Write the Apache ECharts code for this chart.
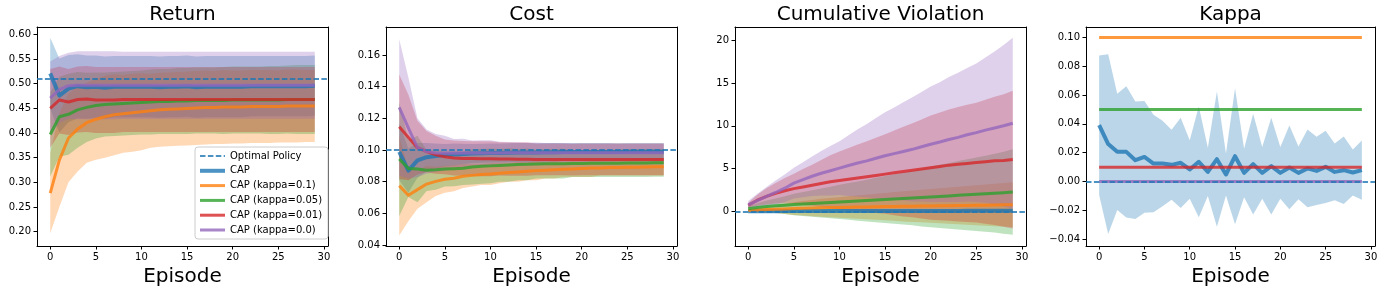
<!DOCTYPE html>
<html><head><meta charset="utf-8">
<script src="https://cdn.jsdelivr.net/npm/echarts@6/dist/echarts.min.js"></script>
<style>html,body{margin:0;padding:0;background:#fff}#c{width:1385px;height:292px}</style>
</head><body><div id="c"></div>
<script>
// ---------- data ----------
const episodes = [0,1,2,3,4,5,6,7,8,9,10,11,12,13,14,15,16,17,18,19,20,21,22,23,24,25,26,27,28,29];
const seriesNames = ['CAP','CAP (kappa=0.1)','CAP (kappa=0.05)','CAP (kappa=0.01)','CAP (kappa=0.0)'];
const optimalName = 'Optimal Policy';
const panelTitles = ['Return','Cost','Cumulative Violation','Kappa'];
const xLabel = 'Episode';
const xTicks = [0,5,10,15,20,25,30];
const returnTicks = [0.20,0.25,0.30,0.35,0.40,0.45,0.50,0.55,0.60];
const costTicks = [0.04,0.06,0.08,0.10,0.12,0.14,0.16];
const violationTicks = [0,5,10,15,20];
const kappaTicks = [-0.04,-0.02,0.00,0.02,0.04,0.06,0.08,0.10];
const optimalValues = [0.505, 0.0993, 0, 0];

// Return
const returnCapMean = [0.521,0.476,0.490,0.495,0.493,0.494,0.492,0.494,0.494,0.494,0.494,0.494,0.493,0.494,0.494,0.495,0.493,0.494,0.494,0.494,0.494,0.494,0.495,0.495,0.495,0.495,0.495,0.495,0.495,0.496];
const returnCapStd = [0.072,0.075,0.068,0.065,0.064,0.063,0.063,0.062,0.062,0.062,0.062,0.062,0.062,0.062,0.062,0.062,0.062,0.062,0.062,0.062,0.062,0.062,0.061,0.061,0.061,0.061,0.061,0.061,0.061,0.061];
const returnK01Mean = [0.278,0.345,0.390,0.408,0.421,0.428,0.433,0.437,0.439,0.441,0.443,0.445,0.447,0.448,0.449,0.450,0.451,0.452,0.452,0.453,0.453,0.453,0.454,0.454,0.454,0.454,0.455,0.455,0.455,0.455];
const returnK01Std = [0.081,0.095,0.090,0.086,0.081,0.082,0.083,0.082,0.079,0.079,0.078,0.075,0.075,0.075,0.075,0.075,0.075,0.075,0.074,0.075,0.074,0.074,0.074,0.074,0.074,0.073,0.074,0.074,0.073,0.073];
const returnK005Mean = [0.397,0.433,0.438,0.447,0.452,0.456,0.458,0.459,0.460,0.461,0.462,0.463,0.464,0.464,0.465,0.465,0.466,0.466,0.466,0.466,0.467,0.467,0.467,0.467,0.467,0.467,0.468,0.468,0.468,0.468];
const returnK005Std = [0.085,0.081,0.082,0.077,0.070,0.067,0.065,0.065,0.065,0.065,0.065,0.066,0.066,0.066,0.067,0.067,0.067,0.067,0.067,0.068,0.068,0.068,0.068,0.068,0.069,0.069,0.069,0.070,0.070,0.070];
const returnK001Mean = [0.450,0.467,0.463,0.468,0.469,0.467,0.467,0.467,0.468,0.468,0.468,0.468,0.468,0.468,0.468,0.468,0.468,0.468,0.468,0.468,0.468,0.468,0.468,0.468,0.468,0.468,0.468,0.468,0.468,0.468];
const returnK001Std = [0.080,0.068,0.067,0.067,0.067,0.067,0.067,0.067,0.066,0.066,0.066,0.066,0.066,0.066,0.066,0.066,0.066,0.066,0.066,0.066,0.066,0.066,0.066,0.066,0.066,0.066,0.066,0.066,0.066,0.066];
const returnK0Mean = [0.471,0.488,0.496,0.497,0.497,0.497,0.497,0.497,0.497,0.497,0.497,0.497,0.497,0.497,0.497,0.497,0.497,0.497,0.497,0.497,0.497,0.497,0.497,0.497,0.497,0.497,0.497,0.497,0.497,0.497];
const returnK0Std = [0.074,0.068,0.067,0.069,0.069,0.069,0.069,0.069,0.068,0.068,0.068,0.068,0.068,0.068,0.068,0.068,0.068,0.068,0.068,0.068,0.068,0.068,0.068,0.068,0.068,0.068,0.068,0.068,0.068,0.068];

// Cost
const costCapMean = [0.0989,0.0870,0.0935,0.0955,0.0962,0.0968,0.0972,0.0975,0.0978,0.0980,0.0981,0.0982,0.0983,0.0984,0.0985,0.0985,0.0986,0.0986,0.0987,0.0987,0.0987,0.0988,0.0988,0.0988,0.0988,0.0989,0.0989,0.0989,0.0989,0.0989];
const costCapStd = [0.018,0.014,0.011,0.009,0.008,0.007,0.007,0.0065,0.006,0.006,0.006,0.006,0.006,0.006,0.006,0.0058,0.0058,0.0058,0.0057,0.0057,0.0057,0.0056,0.0056,0.0056,0.0055,0.0055,0.0055,0.0055,0.0055,0.0055];
const costK01Mean = [0.0775,0.0715,0.0750,0.0785,0.0802,0.0815,0.0822,0.0835,0.0840,0.0845,0.0848,0.0853,0.0858,0.0862,0.0866,0.0870,0.0873,0.0876,0.0879,0.0881,0.0884,0.0886,0.0887,0.0889,0.0890,0.0891,0.0892,0.0893,0.0894,0.0895];
const costK01Std = [0.0315,0.0165,0.0120,0.0115,0.0092,0.0085,0.0082,0.0075,0.0070,0.0065,0.0068,0.0063,0.0058,0.0062,0.0056,0.0060,0.0053,0.0056,0.0049,0.0051,0.0054,0.0056,0.0047,0.0049,0.0050,0.0051,0.0052,0.0053,0.0054,0.0055];
const costK005Mean = [0.0943,0.0884,0.0880,0.0872,0.0875,0.0880,0.0882,0.0885,0.0893,0.0897,0.0900,0.0903,0.0906,0.0908,0.0910,0.0912,0.0913,0.0913,0.0914,0.0915,0.0915,0.0916,0.0916,0.0917,0.0917,0.0918,0.0918,0.0918,0.0919,0.0919];
const costK005Std = [0.0360,0.0180,0.0210,0.0130,0.0125,0.0110,0.0110,0.0105,0.0110,0.0110,0.0110,0.0103,0.0106,0.0098,0.0100,0.0092,0.0093,0.0093,0.0094,0.0085,0.0086,0.0086,0.0086,0.0087,0.0087,0.0088,0.0088,0.0088,0.0088,0.0088];
const costK001Mean = [0.1147,0.1080,0.1015,0.0990,0.0970,0.0957,0.0950,0.0947,0.0946,0.0945,0.0945,0.0944,0.0943,0.0942,0.0942,0.0941,0.0941,0.0941,0.0941,0.0940,0.0941,0.0941,0.0941,0.0941,0.0941,0.0941,0.0941,0.0941,0.0941,0.0941];
const costK001Std = [0.0330,0.0270,0.0170,0.0130,0.0120,0.0110,0.0110,0.0110,0.0110,0.0110,0.0110,0.0105,0.0105,0.0105,0.0105,0.0100,0.0100,0.0100,0.0100,0.0100,0.0100,0.0100,0.0100,0.0100,0.0100,0.0100,0.0100,0.0100,0.0100,0.0100];
const costK0Mean = [0.1270,0.1140,0.1015,0.0990,0.0982,0.0980,0.0980,0.0981,0.0981,0.0982,0.0982,0.0982,0.0983,0.0983,0.0983,0.0983,0.0983,0.0983,0.0983,0.0983,0.0983,0.0983,0.0983,0.0983,0.0983,0.0983,0.0983,0.0983,0.0983,0.0983];
const costK0Std = [0.0430,0.0320,0.0185,0.0140,0.0120,0.0110,0.0090,0.0090,0.0080,0.0080,0.0080,0.0070,0.0068,0.0066,0.0065,0.0064,0.0062,0.0061,0.0060,0.0059,0.0059,0.0058,0.0058,0.0058,0.0057,0.0057,0.0057,0.0057,0.0057,0.0057];

// Cumulative violation
const violCapMean = [0.00,0.01,0.01,0.01,0.02,0.02,0.02,0.02,0.02,0.03,0.03,0.03,0.03,0.03,0.03,0.03,0.04,0.04,0.04,0.04,0.04,0.04,0.04,0.04,0.05,0.05,0.05,0.05,0.05,0.05];
const violCapStd = [0.02,0.03,0.04,0.05,0.06,0.07,0.07,0.08,0.08,0.09,0.09,0.10,0.10,0.10,0.11,0.11,0.11,0.12,0.12,0.12,0.13,0.13,0.13,0.13,0.14,0.14,0.14,0.14,0.15,0.15];
const violK01Mean = [0.10,0.15,0.20,0.24,0.28,0.32,0.35,0.38,0.41,0.43,0.45,0.47,0.49,0.51,0.53,0.55,0.57,0.58,0.60,0.62,0.63,0.65,0.66,0.68,0.69,0.71,0.72,0.74,0.76,0.78];
const violK01Std = [0.10,0.25,0.35,0.45,0.60,0.75,0.85,0.95,1.05,1.12,1.20,1.28,1.36,1.44,1.52,1.60,1.68,1.76,1.84,1.90,1.98,2.05,2.12,2.20,2.27,2.34,2.41,2.48,2.55,2.62];
const violK005Mean = [0.30,0.45,0.55,0.65,0.72,0.80,0.86,0.92,0.98,1.03,1.10,1.15,1.20,1.25,1.32,1.38,1.44,1.50,1.56,1.62,1.68,1.74,1.80,1.87,1.93,2.00,2.06,2.12,2.18,2.25];
const violK005Std = [0.30,0.50,0.70,0.85,1.05,1.25,1.40,1.55,1.70,1.85,2.00,2.15,2.30,2.45,2.60,2.75,2.90,3.05,3.20,3.40,3.55,3.70,3.85,4.00,4.15,4.30,4.45,4.60,4.80,5.00];
const violK001Mean = [0.70,1.30,1.75,2.10,2.40,2.65,2.85,3.05,3.25,3.45,3.60,3.75,3.90,4.05,4.20,4.35,4.50,4.65,4.80,4.95,5.10,5.25,5.40,5.50,5.60,5.70,5.80,5.90,5.95,6.05];
const violK001Std = [0.30,0.65,0.95,1.20,1.50,1.75,2.10,2.40,2.75,3.10,3.40,3.65,3.90,4.15,4.40,4.65,4.95,5.25,5.50,5.80,6.10,6.30,6.50,6.70,6.85,7.00,7.25,7.50,7.75,8.05];
const violK0Mean = [0.75,1.25,1.75,2.20,2.70,3.30,3.70,4.10,4.45,4.75,5.05,5.35,5.65,5.90,6.20,6.50,6.75,7.00,7.25,7.55,7.85,8.10,8.40,8.65,8.95,9.20,9.50,9.75,10.00,10.30];
const violK0Std = [0.45,0.80,1.10,1.40,1.60,1.80,2.05,2.30,2.60,2.90,3.15,3.55,3.95,4.30,4.70,5.10,5.40,5.75,6.10,6.40,6.75,7.00,7.30,7.55,7.80,8.10,8.50,8.95,9.45,10.00];

// Kappa
const kappaCapMean = [0.0391,0.0260,0.0206,0.0206,0.0148,0.0171,0.0125,0.0125,0.0116,0.0130,0.0084,0.0137,0.0067,0.0155,0.0049,0.0176,0.0060,0.0121,0.0060,0.0107,0.0060,0.0098,0.0060,0.0091,0.0074,0.0102,0.0067,0.0079,0.0063,0.0079];
const kappaCapStd = [0.0484,0.0623,0.0403,0.0455,0.0408,0.0387,0.0338,0.0296,0.0243,0.0313,0.0203,0.0384,0.0168,0.0469,0.0145,0.0472,0.0168,0.0350,0.0180,0.0336,0.0180,0.0290,0.0183,0.0270,0.0237,0.0251,0.0197,0.0234,0.0159,0.0206];
const kappaK01Mean = [0.1,0.1,0.1,0.1,0.1,0.1,0.1,0.1,0.1,0.1,0.1,0.1,0.1,0.1,0.1,0.1,0.1,0.1,0.1,0.1,0.1,0.1,0.1,0.1,0.1,0.1,0.1,0.1,0.1,0.1];
const kappaK005Mean = [0.05,0.05,0.05,0.05,0.05,0.05,0.05,0.05,0.05,0.05,0.05,0.05,0.05,0.05,0.05,0.05,0.05,0.05,0.05,0.05,0.05,0.05,0.05,0.05,0.05,0.05,0.05,0.05,0.05,0.05];
const kappaK001Mean = [0.01,0.01,0.01,0.01,0.01,0.01,0.01,0.01,0.01,0.01,0.01,0.01,0.01,0.01,0.01,0.01,0.01,0.01,0.01,0.01,0.01,0.01,0.01,0.01,0.01,0.01,0.01,0.01,0.01,0.01];
const kappaK0Mean = [0,0,0,0,0,0,0,0,0,0,0,0,0,0,0,0,0,0,0,0,0,0,0,0,0,0,0,0,0,0];

// ---------- styling / layout ----------
const colors = ['#1f77b4','#ff7f0e','#2ca02c','#d62728','#9467bd'];
const rgb = [[31,119,180],[255,127,14],[44,160,44],[214,39,40],[148,103,189]];
const lineWidths = [4,3,3,3,3];
const dashWidth = 1.8;
const FONT = 'DejaVu Sans';

const panels = [
  {means:[returnCapMean,returnK01Mean,returnK005Mean,returnK001Mean,returnK0Mean],
   stds:[returnCapStd,returnK01Std,returnK005Std,returnK001Std,returnK0Std],
   ticks: returnTicks, min:0.171, max:0.615, fmt: v => v.toFixed(2)},
  {means:[costCapMean,costK01Mean,costK005Mean,costK001Mean,costK0Mean],
   stds:[costCapStd,costK01Std,costK005Std,costK001Std,costK0Std],
   ticks: costTicks, min:0.0394, max:0.1777, fmt: v => v.toFixed(2)},
  {means:[violCapMean,violK01Mean,violK005Mean,violK001Mean,violK0Mean],
   stds:[violCapStd,violK01Std,violK005Std,violK001Std,violK0Std],
   ticks: violationTicks, min:-4.06, max:21.56, fmt: v => String(Math.round(v))},
  {means:[kappaCapMean,kappaK01Mean,kappaK005Mean,kappaK001Mean,kappaK0Mean],
   stds:[kappaCapStd,null,null,null,null],
   ticks: kappaTicks, min:-0.0447, max:0.1072, fmt: v => (v < -1e-9 ? '\u2212' + Math.abs(v).toFixed(2) : Math.abs(v).toFixed(2))}
];
const gridLayout = [
  {left:37, top:27, width:291, height:219},
  {left:386, top:27, width:291, height:219},
  {left:735, top:27, width:291, height:219},
  {left:1086, top:27, width:289, height:219}
];

const grids = [], xAxes = [], yAxes = [], titles = [], series = [];
const axisLineStyle = {color:'#000', width:1};
const labelStyle = {fontFamily:FONT, fontSize:10, color:'#000'};

panels.forEach((p, gi) => {
  const g = gridLayout[gi];
  grids.push({left:g.left, top:g.top, width:g.width, height:g.height, containLabel:false});
  titles.push({text: panelTitles[gi], left: g.left + g.width/2, top: 15, textAlign:'center', textVerticalAlign:'middle', padding:0,
    textStyle:{fontFamily:FONT, fontSize:20, fontWeight:'normal', color:'#000'}});
  xAxes.push({type:'value', gridIndex:gi, min:-1.45, max:30.45, position:'bottom',
    name: xLabel, nameLocation:'middle', nameGap:20, nameTextStyle:{fontFamily:FONT, fontSize:20, color:'#000'},
    axisLine:{show:true, onZero:false, lineStyle:axisLineStyle},
    axisTick:{show:true, length:3.5, customValues:xTicks, lineStyle:axisLineStyle},
    axisLabel:Object.assign({show:true, margin:6, customValues:xTicks, formatter: v => String(v)}, labelStyle),
    splitLine:{show:false}});
  xAxes.push({type:'value', gridIndex:gi, min:-1.45, max:30.45, position:'top',
    axisLine:{show:true, onZero:false, lineStyle:axisLineStyle}, axisTick:{show:false}, axisLabel:{show:false}, splitLine:{show:false}});
  yAxes.push({type:'value', gridIndex:gi, min:p.min, max:p.max, position:'left',
    axisLine:{show:true, onZero:false, lineStyle:axisLineStyle},
    axisTick:{show:true, length:3.5, customValues:p.ticks, lineStyle:axisLineStyle},
    axisLabel:Object.assign({show:true, margin:6, customValues:p.ticks, formatter:p.fmt}, labelStyle),
    splitLine:{show:false}});
  yAxes.push({type:'value', gridIndex:gi, min:p.min, max:p.max, position:'right',
    axisLine:{show:true, onZero:false, lineStyle:axisLineStyle}, axisTick:{show:false}, axisLabel:{show:false}, splitLine:{show:false}});
});

// bands (mean ± std)
panels.forEach((p, gi) => {
  p.means.forEach((mean, si) => {
    const std = p.stds[si];
    if (!std) return;
    const c = rgb[si];
    series.push({
      type:'custom', name: seriesNames[si] + ' band ' + gi, xAxisIndex: gi*2, yAxisIndex: gi*2, silent:true, z:1,
      data: episodes.map((x, i) => [x, mean[i]]),
      renderItem: function (params, api) {
        if (params.dataIndex !== 0) return null;
        const upper = episodes.map((x, i) => api.coord([x, mean[i] + std[i]]));
        const lower = episodes.map((x, i) => api.coord([x, mean[i] - std[i]])).reverse();
        return {type:'polygon', shape:{points: upper.concat(lower)},
          style:{fill:'rgba(' + c[0] + ',' + c[1] + ',' + c[2] + ',0.3)'}};
      }
    });
  });
});
// mean lines
panels.forEach((p, gi) => {
  p.means.forEach((mean, si) => {
    series.push({
      type:'line', name: seriesNames[si], xAxisIndex: gi*2, yAxisIndex: gi*2, z:3,
      data: episodes.map((x, i) => [x, mean[i]]),
      symbol:'none', showSymbol:false, silent:true,
      lineStyle:{color: colors[si], width: lineWidths[si], opacity:0.8, join:'round', cap:'butt'},
      itemStyle:{color: colors[si], opacity:0.8}
    });
  });
});
// optimal policy dashed reference lines
panels.forEach((p, gi) => {
  series.push({
    type:'line', name: optimalName, xAxisIndex: gi*2, yAxisIndex: gi*2, z:4, data:[],
    symbol:'none', silent:true,
    lineStyle:{color: colors[0], width:dashWidth, type:[5.5,2.4], opacity:0.8},
    itemStyle:{color: colors[0], opacity:0.8},
    markLine:{silent:true, symbol:['none','none'], label:{show:false}, animation:false,
      lineStyle:{color: colors[0], width:dashWidth, type:[5.5,2.4], opacity:0.8},
      data:[{yAxis: optimalValues[gi]}]}
  });
});

const legendData = [{name: optimalName, lineStyle:{width:dashWidth, type:[5.5,2.4]}}]
  .concat(seriesNames.map((n, i) => ({name: n, lineStyle:{width: lineWidths[i]}})));

const chart = echarts.init(document.getElementById('c'), null, {renderer:'canvas'});
chart.setOption({
  animation:false,
  backgroundColor:'#fff',
  textStyle:{fontFamily:FONT},
  title: titles,
  grid: grids,
  xAxis: xAxes,
  yAxis: yAxes,
  legend: {
    data: legendData,
    orient:'vertical', left:195, top:147, padding:[4,6,4,3],
    itemWidth:25, itemHeight:10, itemGap:4.8,
    itemStyle:{opacity:0, borderWidth:0},
    backgroundColor:'rgba(255,255,255,0.8)', borderColor:'#cccccc', borderWidth:1, borderRadius:3,
    textStyle:{fontFamily:FONT, fontSize:10, color:'#000', lineHeight:10},
    selectedMode:false
  },
  series: series
});
</script>
</body></html>
